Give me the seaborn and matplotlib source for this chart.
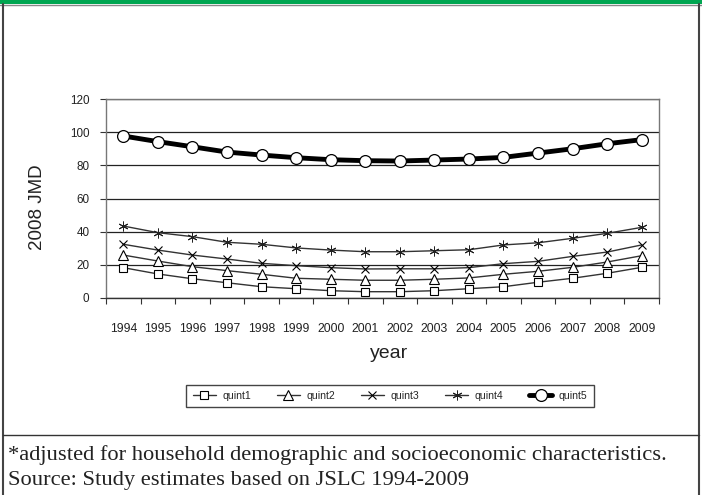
import matplotlib
matplotlib.use("Agg")
import matplotlib.pyplot as plt
from matplotlib.lines import Line2D
from matplotlib.patches import Rectangle
import seaborn as sns

# values
years = [1994, 1995, 1996, 1997, 1998, 1999, 2000, 2001,
         2002, 2003, 2004, 2005, 2006, 2007, 2008, 2009]
quint1 = [18.3, 14.5, 11.6, 9.2, 6.8, 5.6, 4.4, 3.8, 3.8, 4.4, 5.6, 6.8, 9.5, 11.9, 14.9, 18.5]
quint2 = [25.9, 22.3, 18.9, 16.5, 14.3, 11.9, 11.3, 10.7, 10.7, 11.3, 12.1, 14.3, 16.1, 18.5, 21.7, 25.5]
quint3 = [32.4, 28.9, 25.9, 23.5, 20.9, 19.5, 18.3, 17.5, 17.6, 17.6, 18.3, 20.7, 22.1, 25.1, 27.7, 32.0]
quint4 = [43.4, 39.4, 37.0, 33.6, 32.4, 30.2, 28.9, 27.9, 27.9, 28.5, 29.1, 32.0, 33.3, 36.0, 39.0, 42.6]
quint5 = [97.7, 94.3, 91.2, 88.0, 86.2, 84.6, 83.4, 82.8, 82.6, 83.2, 83.8, 84.8, 87.4, 90.0, 93.0, 95.5]
y_ticks = [0, 20, 40, 60, 80, 100, 120]
footnote = "*adjusted for household demographic and socioeconomic characteristics."
source = "Source: Study estimates based on JSLC 1994-2009"

sns.set_theme(style="white")
plt.rcParams["font.family"] = ["Liberation Sans", "DejaVu Sans"]

W, H = 702, 495
fig = plt.figure(figsize=(W / 100, H / 100), dpi=100)
ax = fig.add_axes([106 / W, 1 - 298 / H, (659 - 106) / W, (298 - 99) / H])

grey = "#333333"
thin = dict(color=grey, lw=1.0, mfc="white", mec="black", mew=0.8)
sns.lineplot(x=years, y=quint1, ax=ax, marker="s", ms=6, label="quint1", **thin)
sns.lineplot(x=years, y=quint2, ax=ax, marker="^", ms=7, label="quint2", **thin)
sns.lineplot(x=years, y=quint3, ax=ax, marker="x", ms=6, label="quint3", **thin)
sns.lineplot(x=years, y=quint4, ax=ax, marker=(6, 2, 0), ms=7, label="quint4",
             color=grey, lw=1.0, mec="#222222", mew=0.7)
sns.lineplot(x=years, y=quint5, ax=ax, marker="o", ms=8.5, color="black", lw=3.5,
             mfc="white", mec="black", mew=0.9, label="quint5")

ax.set_xlim(years[0] - 0.5, years[-1] + 0.5)
ax.set_ylim(0, 120)
ax.set_yticks(y_ticks)
ax.set_xticks(years)
ax.set_xticklabels([str(y) for y in years])
ax.set_xticks([y - 0.5 for y in years] + [years[-1] + 0.5], minor=True)
ax.tick_params(axis="x", which="major", length=0, pad=18, labelsize=8.8, colors="#222222")
ax.tick_params(axis="x", which="minor", length=4, width=0.8, color=grey, direction="out", bottom=True)
ax.tick_params(axis="y", length=4, width=0.8, color=grey, direction="out", left=True,
               pad=8, labelsize=8.4, labelcolor="#222222")
ax.yaxis.grid(True, color="#222222", lw=0.9)
ax.xaxis.grid(False)
for side in ["left", "right", "top", "bottom"]:
    ax.spines[side].set_visible(True)
    ax.spines[side].set_color("#777777")
    ax.spines[side].set_linewidth(1.0)
ax.spines["bottom"].set_color(grey)

ax.set_xlabel("")
ax.set_ylabel("")
fig.text(38 / W, 1 - 207 / H, "2008 JMD", rotation=90, ha="center", va="center",
         fontsize=13.5, color="#222222")
fig.text(389 / W, 1 - 354 / H, "year", ha="center", va="center", fontsize=14, color="#222222")

ax.legend(ncol=5, loc="center", bbox_to_anchor=(390 / W, 1 - 396 / H),
          bbox_transform=fig.transFigure, frameon=True, fancybox=False,
          edgecolor="#444444", fontsize=7.6, handlelength=2.2, columnspacing=2.45,
          handletextpad=0.6, borderpad=0.6, framealpha=1)

# page decoration: green band, frame, footer rule and notes
fig.add_artist(Rectangle((0, 1 - 4 / H), 1, 4 / H, transform=fig.transFigure,
                         color="#00a651", lw=0))
fig.add_artist(Line2D([0, 1], [1 - 5 / H, 1 - 5 / H], transform=fig.transFigure,
                      color="#888888", lw=1))
fig.add_artist(Line2D([3 / W, 3 / W], [0, 1 - 4 / H], transform=fig.transFigure,
                      color="#444444", lw=1.5))
fig.add_artist(Line2D([699 / W, 699 / W], [0, 1 - 4 / H], transform=fig.transFigure,
                      color="#444444", lw=1.5))
fig.add_artist(Line2D([3 / W, 699 / W], [1 - 435 / H, 1 - 435 / H], transform=fig.transFigure,
                      color="#333333", lw=1))
fig.text(8 / W, 1 - 455 / H, footnote, ha="left", va="center", fontsize=16.2,
         family=["Liberation Serif", "DejaVu Serif"], color="#222222")
fig.text(8 / W, 1 - 481 / H, source, ha="left", va="center", fontsize=16.2,
         family=["Liberation Serif", "DejaVu Serif"], color="#222222")

fig.savefig("out.png", dpi=100)
